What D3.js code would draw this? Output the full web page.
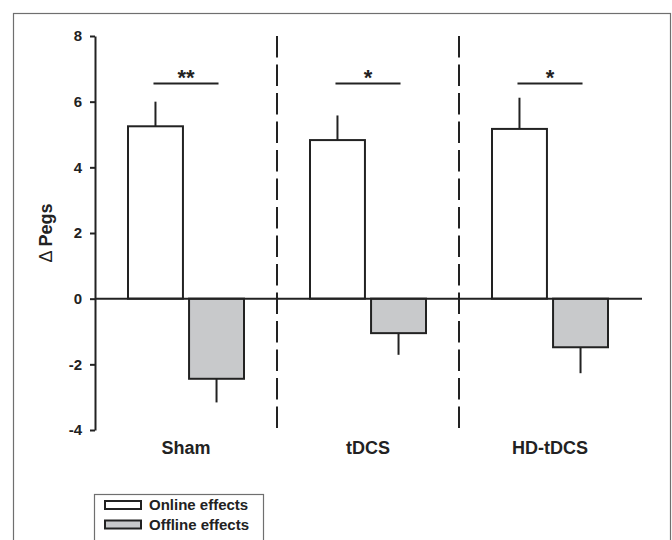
<!DOCTYPE html>
<html>
<head>
<meta charset="utf-8">
<script src="https://cdn.jsdelivr.net/npm/d3@7"></script>
<style>
  html, body { margin: 0; padding: 0; background: #fff; }
  svg { display: block; font-family: "Liberation Sans", Arial, Helvetica, sans-serif; }
</style>
</head>
<body>
<svg id="chart" width="672" height="540"></svg>
<script>
// ---- data ----
const categories = ["Sham", "tDCS", "HD-tDCS"];
const series = ["Online effects", "Offline effects"];
const onlineMeans = [5.25, 4.83, 5.17];
const onlineErrors = [0.75, 0.75, 0.95];
const offlineMeans = [-2.44, -1.05, -1.48];
const offlineErrors = [0.72, 0.66, 0.79];
const sigLabels = ["**", "*", "*"];
const sigLevel = 6.55;
const yTicks = [-4, -2, 0, 2, 4, 6, 8];
const yLabel = "Pegs";

// ---- layout ----
const svg = d3.select("#chart");
const ink = "#222";
const greyFill = "#c8c9cb";
const frame = "#6f6f6f";

const x0 = d3.scaleBand().domain(categories).range([95, 641]).padding(0);
const x1 = d3.scaleBand().domain(series).range([-58, 58]).paddingInner(0.1).paddingOuter(0);
const y = d3.scaleLinear().domain([-4, 8]).range([430, 36]);
const fills = d3.scaleOrdinal().domain(series).range(["#ffffff", greyFill]);

// outer frame
svg.append("rect")
  .attr("x", 13.5).attr("y", 13.5).attr("width", 657).attr("height", 540)
  .attr("fill", "none").attr("stroke", frame).attr("stroke-width", 1.2);

// build rows
const rows = [];
categories.forEach((c, i) => {
  rows.push({cat: c, s: series[0], v: onlineMeans[i], e: onlineErrors[i]});
  rows.push({cat: c, s: series[1], v: offlineMeans[i], e: offlineErrors[i]});
});
const cx = c => x0(c) + x0.bandwidth() / 2;
const barCenter = d => cx(d.cat) + x1(d.s) + x1.bandwidth() / 2;

// dashed dividers between groups
categories.slice(1).forEach(c => {
  svg.append("line")
    .attr("x1", x0(c)).attr("x2", x0(c))
    .attr("y1", y(8)).attr("y2", y(-4))
    .attr("stroke", ink).attr("stroke-width", 2)
    .attr("stroke-dasharray", "21.5,7");
});

// error bars
svg.selectAll("line.err").data(rows).enter().append("line")
  .attr("class", "err")
  .attr("x1", barCenter).attr("x2", barCenter)
  .attr("y1", d => y(d.v))
  .attr("y2", d => y(d.v >= 0 ? d.v + d.e : d.v - d.e))
  .attr("stroke", ink).attr("stroke-width", 2);

// bars
svg.selectAll("rect.bar").data(rows).enter().append("rect")
  .attr("class", "bar")
  .attr("x", d => cx(d.cat) + x1(d.s))
  .attr("width", x1.bandwidth())
  .attr("y", d => y(Math.max(0, d.v)))
  .attr("height", d => Math.abs(y(d.v) - y(0)))
  .attr("fill", d => fills(d.s))
  .attr("stroke", ink).attr("stroke-width", 2);

// zero line
svg.append("line")
  .attr("x1", 95).attr("x2", 642)
  .attr("y1", y(0)).attr("y2", y(0))
  .attr("stroke", ink).attr("stroke-width", 2);

// y axis
const yAxis = d3.axisLeft(y).tickValues(yTicks).tickSize(5).tickSizeOuter(0).tickPadding(8)
  .tickFormat(d => String(d));
const gy = svg.append("g").attr("transform", "translate(95,0)").call(yAxis);
gy.select(".domain").attr("stroke", ink).attr("stroke-width", 2);
gy.selectAll(".tick line").attr("stroke", ink).attr("stroke-width", 2);
gy.selectAll(".tick text")
  .attr("fill", ink).attr("font-size", 15).attr("font-weight", "bold")
  .attr("font-family", "'Liberation Sans', Arial, sans-serif");

// y label
const yl = svg.append("text")
  .attr("transform", "translate(52,233) rotate(-90)")
  .attr("text-anchor", "middle")
  .attr("fill", ink).attr("font-size", 18).attr("font-weight", "bold");
yl.append("tspan").attr("font-weight", "normal").text("\u0394 ");
yl.append("tspan").text(yLabel);

// category labels
svg.selectAll("text.cat").data(categories).enter().append("text")
  .attr("class", "cat")
  .attr("x", d => cx(d)).attr("y", 454)
  .attr("text-anchor", "middle")
  .attr("fill", ink).attr("font-size", 18).attr("font-weight", "bold")
  .text(d => d);

// significance lines and stars
categories.forEach((c, i) => {
  const a = cx(c) + x1(series[0]) + x1.bandwidth() / 2 - 2;
  const b = cx(c) + x1(series[1]) + x1.bandwidth() / 2 + 2;
  svg.append("line")
    .attr("x1", a).attr("x2", b)
    .attr("y1", y(sigLevel)).attr("y2", y(sigLevel))
    .attr("stroke", ink).attr("stroke-width", 2);
  svg.append("text")
    .attr("x", cx(c)).attr("y", y(sigLevel) + 1)
    .attr("text-anchor", "middle")
    .attr("fill", ink).attr("font-size", 22).attr("font-weight", "bold")
    .text(sigLabels[i]);
});

// legend
const lg = svg.append("g");
lg.append("rect")
  .attr("x", 94.5).attr("y", 494.5).attr("width", 169).attr("height", 60)
  .attr("fill", "#fff").attr("stroke", frame).attr("stroke-width", 1.2);
series.forEach((s, i) => {
  const yy = 501 + i * 19.5;
  lg.append("rect")
    .attr("x", 105).attr("y", yy).attr("width", 36).attr("height", 8)
    .attr("fill", fills(s)).attr("stroke", ink).attr("stroke-width", 2);
  lg.append("text")
    .attr("x", 149).attr("y", yy + 9)
    .attr("fill", ink).attr("font-size", 15).attr("font-weight", "bold")
    .text(s);
});
</script>
</body>
</html>
